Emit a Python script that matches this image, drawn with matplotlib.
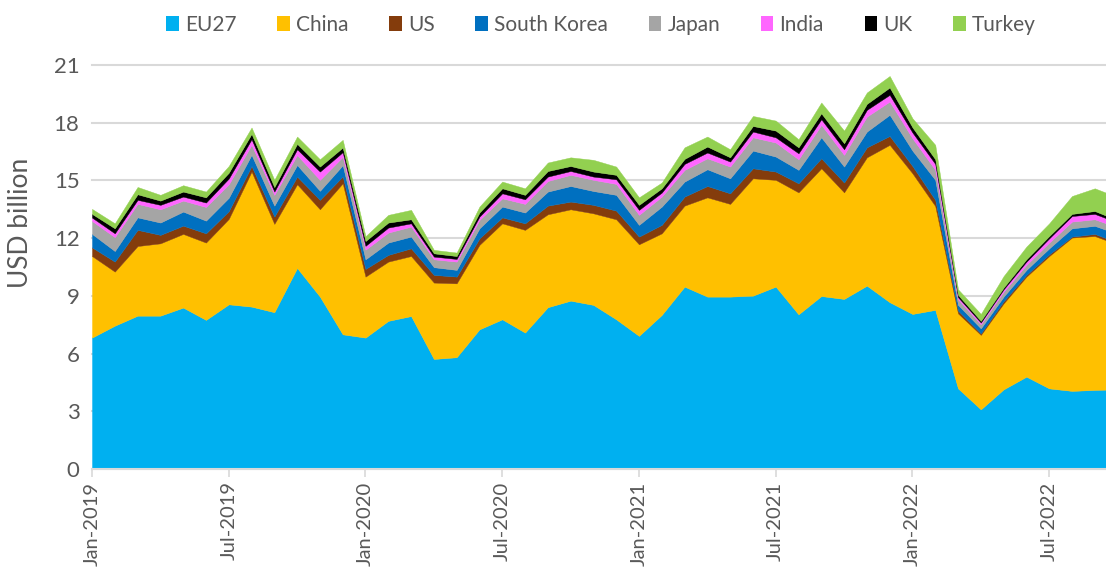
import numpy as np
import matplotlib
matplotlib.use("Agg")
import matplotlib.pyplot as plt
from matplotlib.patches import Patch

series_names = ["EU27", "China", "US", "South Korea", "Japan", "India", "UK", "Turkey"]
colors = ["#00B0F0", "#FFC000", "#843C0C", "#0070C0", "#A5A5A5", "#FF66FF", "#000000", "#92D050"]

eu27 = [6.83, 7.45, 7.97, 7.97, 8.39, 7.75, 8.56, 8.44, 8.15, 10.45, 8.96, 7.00, 6.83, 7.70, 7.95, 5.72,
        5.81, 7.26, 7.78, 7.09, 8.41, 8.75, 8.53, 7.78, 6.92, 8.01, 9.48, 8.96, 8.96, 9.01, 9.48, 8.04,
        8.99, 8.84, 9.53, 8.67, 8.06, 8.27, 4.19, 3.10, 4.14, 4.80, 4.19, 4.06, 4.11, 4.14]
china = [4.24, 2.81, 3.62, 3.76, 3.83, 4.02, 4.44, 7.02, 4.59, 4.35, 4.54, 7.85, 3.17, 3.08, 3.12, 3.97,
         3.84, 4.39, 4.99, 5.34, 4.83, 4.75, 4.76, 5.20, 4.76, 4.24, 4.21, 5.16, 4.82, 6.10, 5.55, 6.34,
         6.64, 5.54, 6.67, 8.18, 7.31, 5.40, 3.90, 3.87, 4.47, 5.20, 6.88, 7.97, 8.00, 7.53]
us = [0.45, 0.52, 0.84, 0.44, 0.43, 0.48, 0.40, 0.29, 0.38, 0.40, 0.49, 0.36, 0.40, 0.35, 0.40, 0.40,
      0.35, 0.34, 0.31, 0.34, 0.45, 0.40, 0.44, 0.45, 0.40, 0.44, 0.47, 0.59, 0.55, 0.52, 0.43, 0.47,
      0.52, 0.51, 0.52, 0.46, 0.38, 0.32, 0.14, 0.08, 0.11, 0.09, 0.09, 0.05, 0.11, 0.10]
south_korea = [0.70, 0.55, 0.65, 0.64, 0.73, 0.66, 0.70, 0.58, 0.57, 0.60, 0.47, 0.58, 0.50, 0.64, 0.61, 0.40,
               0.35, 0.52, 0.56, 0.56, 0.73, 0.81, 0.72, 0.82, 0.61, 0.95, 0.78, 0.87, 0.78, 0.92, 0.78, 0.70,
               1.09, 0.83, 0.82, 1.10, 0.80, 1.04, 0.30, 0.26, 0.24, 0.26, 0.31, 0.43, 0.42, 0.45]
japan = [0.67, 0.72, 0.70, 0.69, 0.57, 0.71, 0.70, 0.52, 0.56, 0.52, 0.57, 0.44, 0.50, 0.52, 0.52, 0.41,
         0.43, 0.44, 0.43, 0.45, 0.55, 0.58, 0.58, 0.57, 0.52, 0.52, 0.61, 0.57, 0.61, 0.69, 0.73, 0.55,
         0.65, 0.61, 0.78, 0.69, 0.64, 0.52, 0.29, 0.21, 0.26, 0.26, 0.30, 0.35, 0.34, 0.34]
india = [0.18, 0.20, 0.21, 0.23, 0.21, 0.23, 0.30, 0.29, 0.17, 0.30, 0.43, 0.24, 0.20, 0.26, 0.17, 0.14,
         0.14, 0.17, 0.26, 0.24, 0.23, 0.20, 0.17, 0.24, 0.26, 0.21, 0.31, 0.30, 0.26, 0.30, 0.27, 0.31,
         0.29, 0.29, 0.35, 0.35, 0.30, 0.31, 0.11, 0.09, 0.12, 0.17, 0.22, 0.29, 0.28, 0.25]
uk = [0.19, 0.26, 0.29, 0.22, 0.26, 0.27, 0.30, 0.28, 0.23, 0.28, 0.26, 0.24, 0.25, 0.26, 0.21, 0.17,
      0.15, 0.21, 0.26, 0.23, 0.29, 0.26, 0.26, 0.23, 0.26, 0.22, 0.26, 0.31, 0.22, 0.29, 0.35, 0.31,
      0.31, 0.31, 0.31, 0.38, 0.27, 0.24, 0.12, 0.09, 0.09, 0.12, 0.12, 0.11, 0.15, 0.12]
turkey = [0.26, 0.26, 0.38, 0.30, 0.33, 0.30, 0.35, 0.33, 0.38, 0.38, 0.38, 0.40, 0.25, 0.40, 0.49, 0.18,
          0.18, 0.31, 0.35, 0.34, 0.44, 0.45, 0.61, 0.43, 0.39, 0.30, 0.60, 0.52, 0.42, 0.52, 0.52, 0.42,
          0.56, 0.66, 0.59, 0.60, 0.47, 0.75, 0.29, 0.36, 0.60, 0.66, 0.66, 0.93, 1.18, 1.20]

tick_labels = ["Jan-2019", "Jul-2019", "Jan-2020", "Jul-2020", "Jan-2021", "Jul-2021", "Jan-2022", "Jul-2022"]
y_ticks = [0, 3, 6, 9, 12, 15, 18, 21]

plt.rcParams['font.family'] = ['Lato', 'DejaVu Sans']
text_color = "#595959"
grid_color = "#D9D9D9"

W, H = 1106, 571
fig = plt.figure(figsize=(W / 100, H / 100), dpi=100)
ax_left, ax_right, ax_top, ax_bottom = 92, 1106, 65, 469
ax = fig.add_axes([ax_left / W, 1 - ax_bottom / H, (ax_right - ax_left) / W, (ax_bottom - ax_top) / H])

all_series = [eu27, china, us, south_korea, japan, india, uk, turkey]
x = np.arange(len(eu27))
polys = ax.stackplot(x, *all_series, colors=colors, labels=series_names, zorder=2)
for p, c in zip(polys, colors):
    p.set_edgecolor(c)
    p.set_linewidth(0.3)

px_per_month = 22.79
ax.set_xlim(0, (ax_right - ax_left) / px_per_month)
ax.set_ylim(0, 21)
ax.set_yticks(y_ticks)
ax.set_yticklabels([str(v) for v in y_ticks])
ax.set_xticks(np.arange(0, 6 * len(tick_labels), 6))
ax.set_xticklabels(tick_labels, rotation=90, va='top', ha='center')

ax.yaxis.grid(True, color=grid_color, linewidth=1.5, zorder=0)
ax.set_axisbelow(True)
for gl in ax.get_ygridlines():
    gl.set_clip_on(False)

for s in ["left", "top", "right"]:
    ax.spines[s].set_visible(False)
ax.spines["bottom"].set_color(grid_color)
ax.spines["bottom"].set_linewidth(1.5)
ax.spines["bottom"].set_zorder(3)

ax.tick_params(axis='y', length=0, pad=9, labelsize=16, labelcolor=text_color)
ax.tick_params(axis='x', length=6, width=1.2, color=grid_color, direction='out', pad=3,
               labelsize=14.5, labelcolor=text_color)

ax.set_ylabel("USD billion", fontsize=19, color=text_color)
ax.yaxis.set_label_coords((33 - ax_left) / (ax_right - ax_left), (ax_bottom - 223) / (ax_bottom - ax_top))

handles = [Patch(facecolor=c, edgecolor='none') for c in colors]
leg = fig.legend(handles, series_names, loc='center', ncol=8, frameon=False,
                 bbox_to_anchor=(601 / W, 1 - 25 / H), fontsize=15,
                 handlelength=0.6, handleheight=0.75, handletextpad=0.3, columnspacing=1.95)
for t in leg.get_texts():
    t.set_color(text_color)

fig.savefig("out.png", dpi=100)
